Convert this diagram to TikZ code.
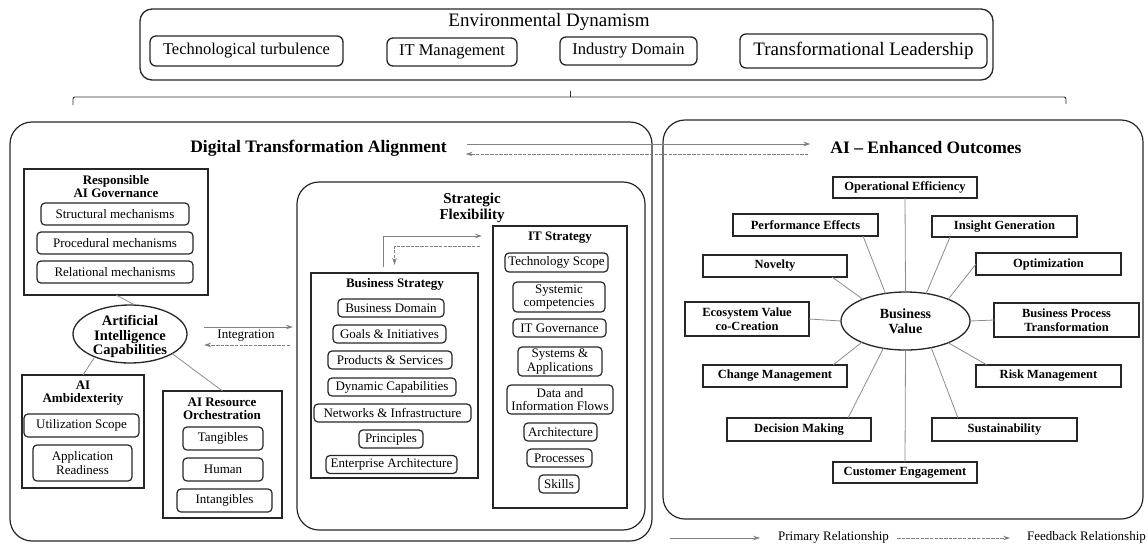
\documentclass[tikz,border=0pt]{standalone}
\usepackage{fontspec}
\setmainfont{Liberation Serif}
\usetikzlibrary{arrows.meta,shapes.geometric,calc}
\begin{document}
\begin{tikzpicture}[x=1pt,y=-1pt,
 every node/.style={inner sep=0pt, outer sep=0pt, text=black},
 env/.style={draw=black!85, line width=1.3pt, rounded corners=6pt, font=\fontsize{16.5}{18}\selectfont},
 cont/.style={draw=black!85, line width=1.2pt, rounded corners=22pt},
 grp/.style={draw=black!85, line width=1.1pt},
 sbox/.style={draw=black!85, line width=1.2pt, rounded corners=4pt, align=center, font=\fontsize{13}{13.5}\selectfont},
 obox/.style={draw=black!85, line width=1.2pt, align=center, font=\bfseries\fontsize{12.5}{14}\selectfont},
 ttl/.style={align=center, font=\bfseries\fontsize{13}{13}\selectfont},
 ell/.style={draw=black!85, line width=1.3pt, ellipse},
 conn/.style={draw=black!45, line width=0.8pt},
 prim/.style={draw=black!50, line width=0.8pt, -{Stealth[length=7pt,width=4.5pt]}},
 fb/.style={prim, dash pattern=on 3.5pt off 1.2pt},
]
\useasboundingbox (0,0) rectangle (1148,544);

% ---------- Environmental Dynamism ----------
\node[draw=black!85, line width=1.3pt, rounded corners=12pt, minimum width=853pt, minimum height=71pt] (envb) at (566.5,44.5) {};
\node[font=\fontsize{19}{20}\selectfont] (envt) at (549,22) {Environmental Dynamism};
\node[env, minimum width=193pt, minimum height=30pt] (tt) at (246.5,51) {Technological turbulence};
\node[env, minimum width=130pt, minimum height=28pt] (itm) at (452,52) {IT Management};
\node[env, minimum width=137pt, minimum height=28pt] (ind) at (628.5,51) {Industry Domain};
\node[env, minimum width=247pt, minimum height=34pt, font=\fontsize{19}{20}\selectfont] (tl) at (863.5,51) {Transformational Leadership};

% brace
\draw[black!80, line width=0.9pt, rounded corners=2pt] (73,105) -- (73,97) -- (1066,97) -- (1066,104);
\draw[black!80, line width=0.9pt] (570,97) -- (570,91);

% ---------- Containers ----------
\node[cont, minimum width=642pt, minimum height=419pt] (dta) at (331,331.5) {};
\node[cont, minimum width=480pt, minimum height=399pt] (aeo) at (903,319.5) {};
\node[font=\bfseries\fontsize{17.5}{19}\selectfont] (dtat) at (318.5,148) {Digital Transformation Alignment};
\node[font=\bfseries\fontsize{17.5}{19}\selectfont] (aeot) at (926,148) {AI – Enhanced Outcomes};
\draw[prim] ([xshift=20pt,yshift=4pt]dtat.east) -- ([xshift=-20pt,yshift=4pt]aeot.west);
\draw[fb] ([xshift=-22pt,yshift=-6pt]aeot.west) -- ([xshift=19pt,yshift=-6pt]dtat.east);

% ---------- Responsible AI Governance ----------
\node[grp, minimum width=184pt, minimum height=126pt] (rag) at (116,232) {};
\node[ttl] (ragt) at (116,186.5) {Responsible\\AI Governance};
\node[sbox, minimum width=148pt, minimum height=22pt] (sm) at (115,214) {Structural mechanisms};
\node[sbox, minimum width=156pt, minimum height=22pt] (pm) at (115,243) {Procedural mechanisms};
\node[sbox, minimum width=156pt, minimum height=22pt] (rm) at (115,272) {Relational mechanisms};

% ---------- AI Capabilities ----------
\node[ell, minimum width=114pt, minimum height=58pt] (aic) at (130,334) {};
\node[align=center, font=\bfseries\fontsize{14.5}{14.5}\selectfont] (aict) at (130,336.5) {Artificial\\Intelligence\\Capabilities};

% ---------- AI Ambidexterity ----------
\node[grp, minimum width=122pt, minimum height=113pt] (amb) at (83,431.5) {};
\node[ttl] (ambt) at (83,393.5) {AI\\Ambidexterity};
\node[sbox, minimum width=115pt, minimum height=23pt] (us) at (81.5,425.5) {Utilization Scope};
\node[sbox, minimum width=99pt, minimum height=36pt] (ar) at (82.5,463) {Application\\Readiness};

% ---------- AI Resource Orchestration ----------
\node[grp, minimum width=119pt, minimum height=127pt] (orc) at (222.5,454.5) {};
\node[ttl] (orct) at (222,409) {AI Resource\\Orchestration};
\node[sbox, minimum width=80pt, minimum height=23pt] (tan) at (223,438.5) {Tangibles};
\node[sbox, minimum width=80pt, minimum height=23pt] (hum) at (223,469.5) {Human};
\node[sbox, minimum width=95pt, minimum height=23pt] (intg) at (224.5,500.5) {Intangibles};

\draw[conn] (rag.south) -- (aic.80);
\draw[conn] (aic.213) -- (amb.north);
\draw[conn] (aic.335) -- (orc.north);

% ---------- Strategic Flexibility ----------
\node[cont, minimum width=348pt, minimum height=348pt] (sf) at (471,356) {};
\node[align=center, font=\bfseries\fontsize{15}{16}\selectfont] (sft) at (472,208) {Strategic\\Flexibility};
\node[grp, minimum width=134pt, minimum height=282pt] (its) at (560,367) {};
\node[ttl] (itst) at (560,238) {IT Strategy};
\node[grp, minimum width=167pt, minimum height=205pt] (bs) at (394.5,375.5) {};
\node[ttl] (bst) at (395,284) {Business Strategy};

\node[sbox, minimum width=106pt, minimum height=18pt] (bd) at (391,308) {Business Domain};
\node[sbox, minimum width=113pt, minimum height=18pt] (gi) at (389.5,334) {Goals \& Initiatives};
\node[sbox, minimum width=124pt, minimum height=18pt] (ps) at (390,360) {Products \& Services};
\node[sbox, minimum width=128pt, minimum height=18pt] (dc) at (392,387) {Dynamic Capabilities};
\node[sbox, minimum width=157pt, minimum height=18pt] (ni) at (392.5,413) {Networks \& Infrastructure};
\node[sbox, minimum width=64pt, minimum height=18pt] (pr) at (391,439) {Principles};
\node[sbox, minimum width=131pt, minimum height=18pt] (ea) at (391.5,464.5) {Enterprise Architecture};

\node[sbox, minimum width=103pt, minimum height=19pt] (ts) at (556.5,262.5) {Technology Scope};
\node[sbox, minimum width=92pt, minimum height=30pt] (sc) at (559,297) {Systemic\\competencies};
\node[sbox, minimum width=93pt, minimum height=18pt] (itg) at (559.5,328) {IT Governance};
\node[sbox, minimum width=84pt, minimum height=29pt] (sa) at (560,361.5) {Systems \&\\Applications};
\node[sbox, minimum width=106pt, minimum height=29pt] (dif) at (560,399.5) {Data and\\Information Flows};
\node[sbox, minimum width=73pt, minimum height=18pt] (arch) at (560.5,432) {Architecture};
\node[sbox, minimum width=65pt, minimum height=18pt] (proc) at (559.5,458) {Processes};
\node[sbox, minimum width=40pt, minimum height=18pt] (sk) at (559,484) {Skills};

\draw[prim] ([xshift=-11.5pt,yshift=6pt]bs.north) |- ([xshift=-11pt,yshift=-10pt]its.north west);
\draw[fb] ([xshift=-13pt,yshift=-20pt]its.north west) -| ([yshift=8pt]bs.north);

% integration
\node[font=\fontsize{13}{14}\selectfont] (intl) at (246,336) {Integration};
\draw[prim] ([xshift=17pt,yshift=7pt]aic.east) -- ($(sf.west)+(-4,-29)$);
\draw[fb] ($(sf.west)+(-7,-11)$) -- ([xshift=17pt,yshift=-11pt]aic.east);

% ---------- AI-Enhanced Outcomes ----------
\node[ell, minimum width=129pt, minimum height=58pt] (bv) at (905.5,321) {};
\node[align=center, font=\bfseries\fontsize{14}{15.5}\selectfont] (bvt) at (905.5,321) {Business\\Value};

\node[obox, minimum width=144pt, minimum height=21pt] (oe) at (905,187.5) {Operational Efficiency};
\node[obox, minimum width=145pt, minimum height=22pt] (pe) at (805.5,225) {Performance Effects};
\node[obox, minimum width=145pt, minimum height=21pt] (ig) at (1004.5,226.5) {Insight Generation};
\node[obox, minimum width=144pt, minimum height=22pt] (nov) at (775,266) {Novelty};
\node[obox, minimum width=145pt, minimum height=22pt] (opt) at (1048.5,264) {Optimization};
\node[obox, minimum width=124pt, minimum height=34pt] (evc) at (747,319) {Ecosystem Value\\co-Creation};
\node[obox, minimum width=145pt, minimum height=34pt] (bpt) at (1066.5,320) {Business Process\\Transformation};
\node[obox, minimum width=144pt, minimum height=22pt] (cm) at (775,376) {Change Management};
\node[obox, minimum width=145pt, minimum height=22pt] (rk) at (1048.5,376) {Risk Management};
\node[obox, minimum width=144pt, minimum height=23pt] (dm) at (799,429.5) {Decision Making};
\node[obox, minimum width=145pt, minimum height=23pt] (sus) at (1004.5,429.5) {Sustainability};
\node[obox, minimum width=144pt, minimum height=21pt] (ce) at (905,472.5) {Customer Engagement};

\draw[conn] (oe.south) -- (bv.north);
\draw[conn] ([xshift=57.5pt]pe.south) -- (bv.126);
\draw[conn] ([xshift=-54.5pt]ig.south) -- (bv.53);
\draw[conn] ([xshift=-15pt]nov.south east) -- (bv.153);
\draw[conn] (opt.west) -- (bv.27);
\draw[conn] (evc.east) -- (bv.west);
\draw[conn] (bv.east) -- (bpt.west);
\draw[conn] ([xshift=-14pt]cm.north east) -- (bv.206);
\draw[conn] ([xshift=11pt]rk.north west) -- (bv.333);
\draw[conn] ([xshift=49pt]dm.north) -- (bv.231);
\draw[conn] ([xshift=-46.5pt]sus.north) -- (bv.314);
\draw[conn] (bv.south) -- (ce.north);

% ---------- Legend ----------
\node[font=\fontsize{13}{14}\selectfont] (lgp) at (833.5,537) {Primary Relationship};
\node[font=\fontsize{13}{14}\selectfont] (lgf) at (1086.5,537) {Feedback Relationship};
\coordinate (lgp0) at (670,538);
\coordinate (lgf0) at (897,538);
\draw[prim] (lgp0) -- ([xshift=-18pt]lgp.west |- lgp0);
\draw[fb] (lgf0) -- ([xshift=-17pt]lgf.west |- lgf0);
\end{tikzpicture}
\end{document}
